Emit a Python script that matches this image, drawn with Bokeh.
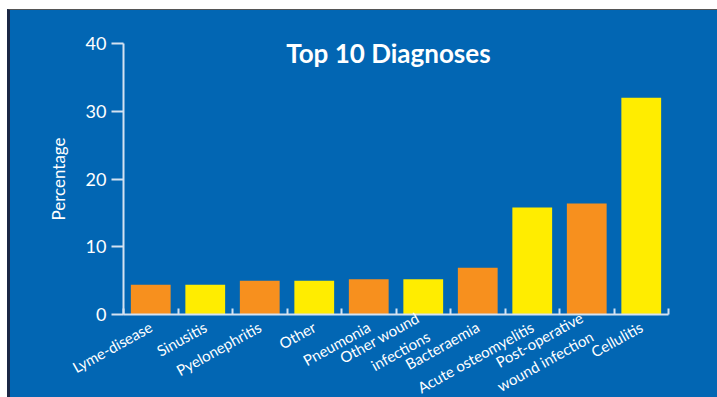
from math import radians
from bokeh.plotting import figure
from bokeh.models import Range1d, FixedTicker, Label, ColumnDataSource
from bokeh.embed import file_html
from bokeh.resources import INLINE

# ---- data ----
categories = ["Lyme-disease", "Sinusitis", "Pyelonephritis", "Other", "Pneumonia",
              "Other wound\ninfections", "Bacteraemia", "Acute osteomyelitis",
              "Post-operative\nwound infection", "Cellulitis"]
values = [4.4, 4.4, 5.0, 5.0, 5.2, 5.2, 6.9, 15.8, 16.4, 32.0]
y_ticks = [0, 10, 20, 30, 40]
title_text = "Top 10 Diagnoses"
y_label = "Percentage"

BLUE = "#0266B3"
ORANGE = "#F7901E"
YELLOW = "#FFED00"
AXIS = "#D4E2F1"
FONT = "Lato"

n = len(categories)
centers = [i + 0.5 for i in range(n)]
colors = [ORANGE if i % 2 == 0 else YELLOW for i in range(n)]

src = ColumnDataSource(dict(x=centers, top=values, color=colors))

p = figure(frame_width=545, frame_height=271, output_backend="svg", toolbar_location=None,
           x_range=Range1d(0, n), y_range=Range1d(0, 40),
           min_border_left=113, min_border_right=49, min_border_top=33, min_border_bottom=83,
           margin=(9, 0, 0, 7),
           styles={"border-left": "3px solid #1b2745", "border-top": "1px solid #555",
                   "background-color": BLUE})
p.background_fill_color = None
p.border_fill_color = None
p.outline_line_color = None
p.grid.visible = False

p.vbar(x="x", top="top", width=0.73, bottom=0, color="color", line_color=None, source=src)

# y axis
ya = p.yaxis[0]
ya.ticker = FixedTicker(ticks=y_ticks)
ya.axis_line_color = AXIS
ya.axis_line_width = 2
ya.major_tick_line_color = AXIS
ya.major_tick_line_width = 2
ya.major_tick_in = 0
ya.major_tick_out = 12
ya.minor_tick_line_color = None
ya.major_label_text_color = "white"
ya.major_label_text_font = FONT
ya.major_label_text_font_size = "18px"
ya.major_label_standoff = 5
ya.axis_label = y_label
ya.axis_label_text_color = "white"
ya.axis_label_text_font = FONT
ya.axis_label_text_font_size = "17px"
ya.axis_label_text_font_style = "normal"
ya.axis_label_standoff = 14

# x axis
xa = p.xaxis[0]
xa.ticker = FixedTicker(ticks=centers, minor_ticks=list(range(n + 1)))
xa.major_label_overrides = {c: lab for c, lab in zip(centers, categories)}
xa.axis_line_color = AXIS
xa.axis_line_width = 2
xa.major_tick_line_color = None
xa.minor_tick_line_color = AXIS
xa.minor_tick_line_width = 2
xa.minor_tick_in = 6
xa.minor_tick_out = 0
xa.major_label_orientation = radians(29)
xa.major_label_text_color = "white"
xa.major_label_text_font = FONT
xa.major_label_text_font_size = "15px"
xa.major_label_standoff = 5

# title inside the plot area
p.add_layout(Label(x=4.86, y=38.6, text=title_text, text_align="center",
                   text_baseline="alphabetic", text_color="white", text_font=FONT,
                   text_font_style="bold", text_font_size="26px"))

open("out.html", "w").write(file_html(p, INLINE))
